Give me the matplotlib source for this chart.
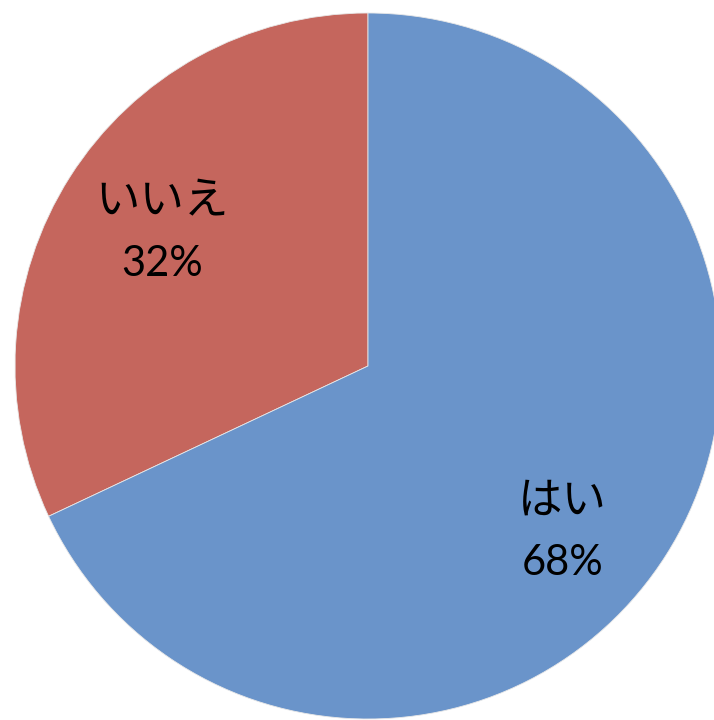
import matplotlib.pyplot as plt

labels = ["いいえ", "はい"]
values = [32, 68]
colors = ["#C5665D", "#6A94CA"]

fig = plt.figure(figsize=(7.14, 7.2), dpi=100)
ax = fig.add_axes([15 / 714, 1 / 720, 706 / 714, 706 / 720])

ax.pie(values, colors=colors, startangle=90, counterclock=True,
       wedgeprops=dict(edgecolor="#E8E8E8", linewidth=0.6))
ax.set_xlim(-1, 1)
ax.set_ylim(-1, 1)
ax.set_aspect("equal")
ax.axis("off")

fam = ["Lato", "Noto Sans CJK JP", "DejaVu Sans"]
# label positions (axes fraction), one per slice
pos = [(0.208, 0.732), (0.775, 0.309)]
for (lx, ly), lab, v in zip(pos, labels, values):
    ax.text(lx, ly, lab, transform=ax.transAxes, ha="center", va="center",
            fontsize=32, family=fam)
    ax.text(lx, ly - 0.088, f"{v}%", transform=ax.transAxes, ha="center",
            va="center", fontsize=30, family=fam)

fig.savefig("out.png", dpi=100)
